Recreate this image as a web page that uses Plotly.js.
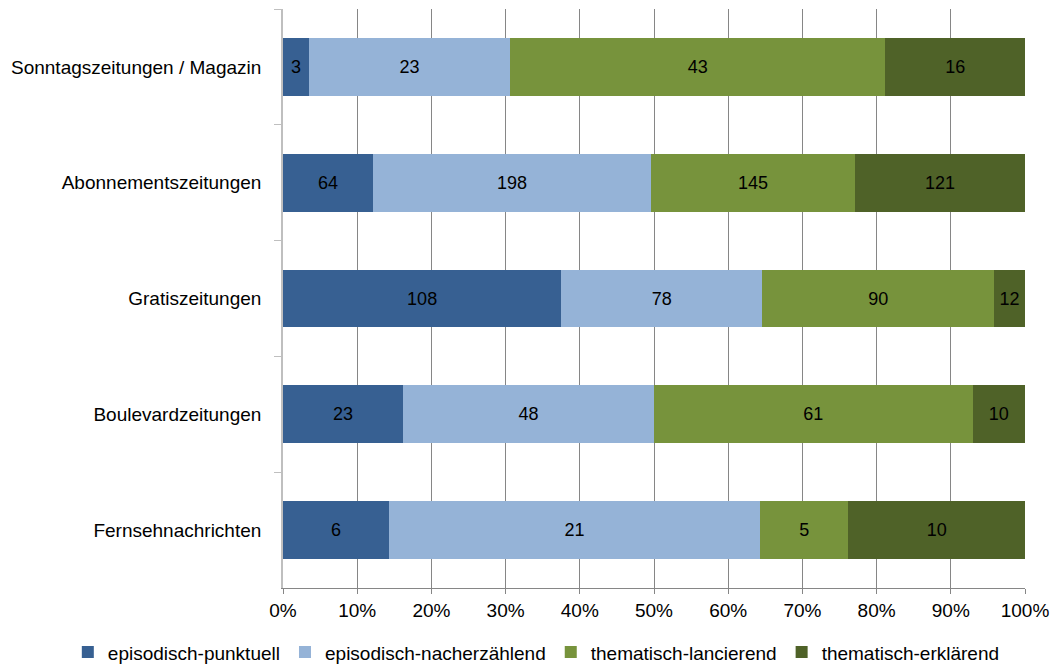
<!DOCTYPE html>
<html>
<head>
<meta charset="utf-8">
<script src="https://cdn.plot.ly/plotly-3.0.1.min.js"></script>
<style>html,body{margin:0;padding:0;background:#fff}#chart{width:1050px;height:665px}</style>
</head>
<body>
<div id="chart"></div>
<script>
const categories = ["Sonntagszeitungen / Magazin", "Abonnementszeitungen", "Gratiszeitungen", "Boulevardzeitungen", "Fernsehnachrichten"];
const seriesNames = ["episodisch-punktuell", "episodisch-nacherzählend", "thematisch-lancierend", "thematisch-erklärend"];
const punktuell = [3, 64, 108, 23, 6];
const nacherzaehlend = [23, 198, 78, 48, 21];
const lancierend = [43, 145, 90, 61, 5];
const erklaerend = [16, 121, 12, 10, 10];
const tickVals = [0, 10, 20, 30, 40, 50, 60, 70, 80, 90, 100];

const colors = ["#376092", "#95b3d7", "#77933c", "#4f6228"];
const allSeries = [punktuell, nacherzaehlend, lancierend, erklaerend];
const FONT = 'Liberation Sans, Arial, sans-serif';

const traces = allSeries.map((vals, i) => ({
  type: 'bar',
  orientation: 'h',
  name: seriesNames[i],
  y: categories,
  x: vals,
  text: vals.map(String),
  texttemplate: '%{text}',
  textposition: 'inside',
  insidetextanchor: 'middle',
  textangle: 0,
  insidetextfont: {color: '#000', size: 18, family: FONT},
  marker: {color: colors[i], line: {width: 0}},
  hoverinfo: 'skip'
}));

const layout = {
  width: 1050, height: 665,
  margin: {l: 283, r: 25, t: 9, b: 77, autoexpand: false},
  barmode: 'stack',
  barnorm: 'percent',
  bargap: 0.5,
  paper_bgcolor: '#fff', plot_bgcolor: '#fff',
  font: {family: FONT, size: 19, color: '#000'},
  showlegend: true,
  legend: {orientation: 'h', xref: 'paper', yref: 'paper',
           x: -0.29, xanchor: 'left', y: -0.111, yanchor: 'middle',
           font: {size: 19}, traceorder: 'normal', itemclick: false,
           itemwidth: 30, tracegroupgap: 0},
  xaxis: {
    range: [0, 100], tickvals: tickVals, ticktext: tickVals.map(v => v + '%'),
    showgrid: true, gridcolor: '#868686', gridwidth: 1,
    showline: true, linecolor: '#868686', linewidth: 1,
    ticks: 'outside', ticklen: 5, tickcolor: '#868686',
    zeroline: false, fixedrange: true, tickfont: {size: 19},
    ticklabeloverflow: 'allow'
  },
  yaxis: {
    type: 'category', autorange: 'reversed',
    tickson: 'boundaries', ticks: 'outside', ticklen: 7, tickcolor: '#bfbfbf',
    showline: true, linecolor: '#bfbfbf', linewidth: 2,
    showgrid: false, zeroline: false, ticksuffix: '   ',
    tickfont: {size: 19}
  }
};

Plotly.newPlot('chart', traces, layout, {displayModeBar: false, staticPlot: true});
</script>
</body>
</html>
